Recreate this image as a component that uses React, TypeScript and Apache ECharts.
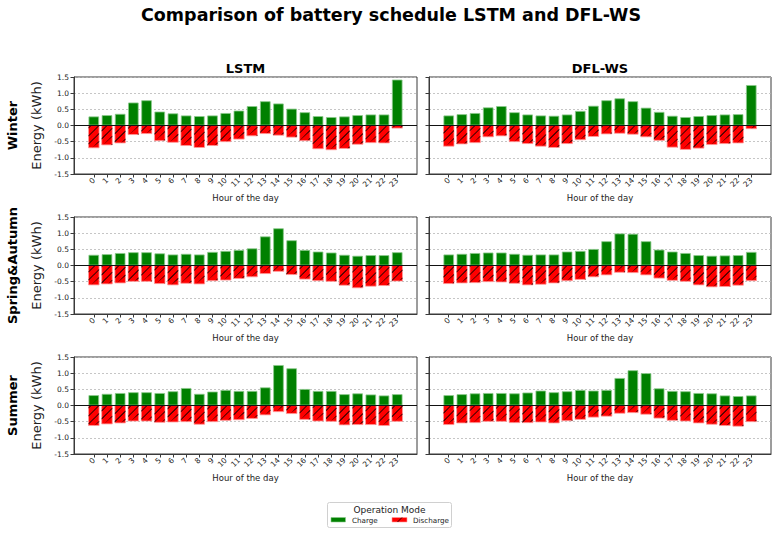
import React, { useEffect, useRef } from 'react';
import * as echarts from 'echarts';

const hours = ['0','1','2','3','4','5','6','7','8','9','10','11','12','13','14','15','16','17','18','19','20','21','22','23'];
const seasons = ['Winter', 'Spring&Autumn', 'Summer'];
const models = ['LSTM', 'DFL-WS'];
const yTicks = [-1.5, -1.0, -0.5, 0.0, 0.5, 1.0, 1.5];

const lstmWinterCharge = [0.28,0.32,0.36,0.71,0.78,0.43,0.375,0.31,0.29,0.31,0.385,0.46,0.60,0.75,0.68,0.52,0.41,0.29,0.26,0.28,0.32,0.34,0.34,1.42];
const lstmWinterDischarge = [-0.69,-0.60,-0.54,-0.28,-0.25,-0.47,-0.52,-0.62,-0.68,-0.62,-0.50,-0.42,-0.32,-0.25,-0.30,-0.36,-0.47,-0.72,-0.75,-0.71,-0.58,-0.53,-0.54,-0.08];
const dflWinterCharge = [0.31,0.35,0.385,0.56,0.60,0.41,0.34,0.31,0.30,0.34,0.45,0.61,0.78,0.84,0.75,0.55,0.42,0.30,0.26,0.29,0.32,0.34,0.35,1.25];
const dflWinterDischarge = [-0.64,-0.57,-0.53,-0.35,-0.32,-0.50,-0.56,-0.64,-0.68,-0.56,-0.44,-0.34,-0.26,-0.24,-0.27,-0.35,-0.46,-0.67,-0.74,-0.70,-0.59,-0.56,-0.54,-0.10];
const lstmSpringCharge = [0.33,0.35,0.385,0.41,0.41,0.375,0.34,0.36,0.34,0.42,0.45,0.48,0.53,0.90,1.15,0.78,0.48,0.43,0.40,0.33,0.30,0.32,0.32,0.41];
const lstmSpringDischarge = [-0.60,-0.57,-0.54,-0.49,-0.49,-0.56,-0.60,-0.55,-0.57,-0.47,-0.45,-0.40,-0.35,-0.25,-0.18,-0.28,-0.42,-0.47,-0.49,-0.61,-0.69,-0.64,-0.62,-0.48];
const dflSpringCharge = [0.34,0.36,0.385,0.40,0.40,0.36,0.33,0.34,0.34,0.43,0.45,0.51,0.75,0.99,0.98,0.75,0.49,0.43,0.385,0.32,0.30,0.31,0.32,0.42];
const dflSpringDischarge = [-0.56,-0.54,-0.53,-0.50,-0.51,-0.55,-0.60,-0.58,-0.54,-0.47,-0.43,-0.35,-0.29,-0.21,-0.22,-0.29,-0.39,-0.46,-0.49,-0.60,-0.66,-0.65,-0.61,-0.47];
const lstmSummerCharge = [0.32,0.36,0.385,0.41,0.41,0.385,0.44,0.54,0.36,0.43,0.48,0.45,0.45,0.56,1.25,1.15,0.51,0.45,0.45,0.35,0.375,0.34,0.31,0.35];
const lstmSummerDischarge = [-0.62,-0.57,-0.54,-0.48,-0.48,-0.52,-0.51,-0.50,-0.58,-0.50,-0.46,-0.44,-0.40,-0.29,-0.19,-0.25,-0.43,-0.48,-0.49,-0.60,-0.59,-0.59,-0.62,-0.49];
const dflSummerCharge = [0.32,0.35,0.375,0.385,0.385,0.375,0.40,0.46,0.41,0.44,0.48,0.46,0.48,0.85,1.09,1.00,0.53,0.45,0.44,0.385,0.375,0.31,0.29,0.31];
const dflSummerDischarge = [-0.59,-0.54,-0.53,-0.49,-0.49,-0.53,-0.53,-0.51,-0.54,-0.47,-0.43,-0.36,-0.33,-0.24,-0.22,-0.27,-0.39,-0.46,-0.48,-0.54,-0.58,-0.62,-0.64,-0.50];

const panels = [
  [lstmWinterCharge, lstmWinterDischarge, dflWinterCharge, dflWinterDischarge],
  [lstmSpringCharge, lstmSpringDischarge, dflSpringCharge, dflSpringDischarge],
  [lstmSummerCharge, lstmSummerDischarge, dflSummerCharge, dflSummerDischarge],
];

const FONT = 'DejaVu Sans';
const TXT = '#222';
const AX = '#3a3a3a';
const HATCH_STEP = 8;
const HATCH_T = 1.1;

function renderDischarge(params: any, api: any) {
  const idx = api.value(0);
  const v = api.value(1);
  const base = api.coord([idx, 0]);
  const end = api.coord([idx, v]);
  const bw = api.size([1, 0])[0] * 0.8;
  const x0 = base[0] - bw / 2;
  const x1 = base[0] + bw / 2;
  const y0 = Math.min(base[1], end[1]);
  const y1 = Math.max(base[1], end[1]);
  const children: any[] = [
    { type: 'rect', shape: { x: x0, y: y0, width: bw, height: y1 - y0 }, style: { fill: '#ff0000', stroke: '#ff9a9a', lineWidth: 0.8 } },
  ];
  const start = Math.ceil((x0 + y0) / HATCH_STEP) * HATCH_STEP;
  for (let cc = start; cc <= x1 + y1; cc += HATCH_STEP) {
    const ax = Math.max(x0, cc - y1);
    const bx = Math.min(x1, cc - y0);
    if (bx - ax < 0.6) continue;
    const ay = cc - ax;
    const by = cc - bx;
    children.push({
      type: 'polygon',
      shape: { points: [[ax, ay], [bx, by], [bx, Math.min(by + HATCH_T, y1)], [ax, Math.min(ay + HATCH_T, y1)]] },
      style: { fill: '#000', stroke: null },
    });
  }
  return { type: 'group', children };
}

function buildOption() {
  const grids: any[] = [];
  const xAxes: any[] = [];
  const yAxes: any[] = [];
  const series: any[] = [];
  const cats = ['', ...hours, ''];
  const show = (i: number) => i > 0 && i < cats.length - 1;
  const colLeft = [74, 429];
  const colWidth = [343, 342];
  const yMin = yTicks[0];
  const yMax = yTicks[yTicks.length - 1];
  for (let r = 0; r < 3; r++) {
    for (let c = 0; c < 2; c++) {
      const k = r * 2 + c;
      grids.push({
        left: colLeft[c], top: 77 + 140 * r, width: colWidth[c], height: 97,
        show: true, borderColor: AX, borderWidth: 1, backgroundColor: 'transparent',
      });
      xAxes.push({
        type: 'category', gridIndex: k, data: cats, boundaryGap: true,
        axisLine: { show: true, onZero: false, lineStyle: { color: AX, width: 1 } },
        axisTick: { show: true, alignWithLabel: true, interval: (i: number) => show(i), length: 3.5, lineStyle: { color: AX } },
        axisLabel: {
          interval: (i: number) => show(i), rotate: 45,
          margin: 5, fontSize: 7.5, color: TXT, fontFamily: FONT,
        },
        splitLine: { show: false },
        name: 'Hour of the day', nameLocation: 'middle', nameGap: 19,
        nameTextStyle: { fontSize: 8.5, color: TXT, fontFamily: FONT },
      });
      yAxes.push({
        type: 'value', gridIndex: k, min: yMin, max: yMax, interval: 0.5,
        axisLine: { show: true, onZero: false, lineStyle: { color: AX, width: 1 } },
        axisTick: { show: true, length: 3.5, lineStyle: { color: AX } },
        axisLabel: {
          show: c === 0, fontSize: 7.5, color: TXT, fontFamily: FONT, margin: 5,
          formatter: (v: number) => v.toFixed(1),
        },
        splitLine: { show: true, lineStyle: { color: '#b8b8b8', width: 0.8, type: [2, 2] } },
        name: c === 0 ? 'Energy (kWh)' : '', nameLocation: 'middle', nameGap: 31,
        nameTextStyle: { fontSize: 13, color: TXT, fontFamily: FONT },
      });
      const charge = panels[r][c * 2];
      const discharge = panels[r][c * 2 + 1];
      series.push({
        type: 'bar', xAxisIndex: k, yAxisIndex: k, name: 'Charge',
        data: [null, ...charge, null], barWidth: '80%',
        itemStyle: { color: '#008000', borderColor: '#8cc98c', borderWidth: 0.8 },
        markLine: {
          silent: true, symbol: 'none', label: { show: false },
          lineStyle: { color: '#111', type: 'solid', width: 1 },
          data: [{ yAxis: 0 }], z: 5,
        },
      });
      series.push({
        type: 'custom', xAxisIndex: k, yAxisIndex: k, name: 'Discharge',
        coordinateSystem: 'cartesian2d',
        data: discharge.map((v, i) => [i + 1, v]),
        encode: { x: 0, y: 1 },
        renderItem: renderDischarge,
        silent: true,
      });
    }
  }

  const graphic: any[] = [
    { type: 'text', x: 391, y: 15, style: { text: 'Comparison of battery schedule LSTM and DFL-WS', fontSize: 17.5, fontWeight: 'bold', fontFamily: FONT, fill: '#000', align: 'center', verticalAlign: 'middle' } },
    { type: 'text', x: 245.5, y: 68, style: { text: models[0], fontSize: 13, fontWeight: 'bold', fontFamily: FONT, fill: '#000', align: 'center', verticalAlign: 'middle' } },
    { type: 'text', x: 600, y: 68, style: { text: models[1], fontSize: 13, fontWeight: 'bold', fontFamily: FONT, fill: '#000', align: 'center', verticalAlign: 'middle' } },
  ];
  seasons.forEach((s, r) => {
    graphic.push({
      type: 'text', x: 12, y: 125.5 + 140 * r, rotation: Math.PI / 2,
      style: { text: s, fontSize: 13, fontWeight: 'bold', fontFamily: FONT, fill: '#000', align: 'center', verticalAlign: 'middle' },
    });
  });
  graphic.push(
    { type: 'rect', shape: { x: 327.5, y: 502.5, width: 124, height: 25, r: 2 }, style: { fill: '#fff', stroke: '#d0d0d0', lineWidth: 1 } },
    { type: 'text', x: 389.5, y: 509.5, style: { text: 'Operation Mode', fontSize: 9, fontFamily: FONT, fill: TXT, align: 'center', verticalAlign: 'middle' } },
    { type: 'rect', shape: { x: 331, y: 517.5, width: 14.5, height: 4.5 }, style: { fill: '#008000', stroke: '#8cc98c', lineWidth: 0.6 } },
    { type: 'text', x: 352, y: 520, style: { text: 'Charge', fontSize: 7.2, fontFamily: FONT, fill: TXT, align: 'left', verticalAlign: 'middle' } },
    { type: 'rect', shape: { x: 392, y: 517.5, width: 15, height: 4.5 }, style: { fill: '#ff0000', stroke: '#ff9a9a', lineWidth: 0.6 } },
    { type: 'line', shape: { x1: 397.5, y1: 522, x2: 402, y2: 517.5 }, style: { stroke: '#000', lineWidth: 0.8 } },
    { type: 'text', x: 413, y: 520, style: { text: 'Discharge', fontSize: 7.2, fontFamily: FONT, fill: TXT, align: 'left', verticalAlign: 'middle' } },
  );

  return {
    animation: false,
    backgroundColor: '#fff',
    textStyle: { fontFamily: FONT },
    grid: grids,
    xAxis: xAxes,
    yAxis: yAxes,
    series,
    graphic,
  };
}

export default function App() {
  const ref = useRef<HTMLDivElement>(null);
  useEffect(() => {
    if (!ref.current) return;
    const chart = echarts.init(ref.current, undefined, { renderer: 'svg' });
    chart.setOption(buildOption());
    return () => chart.dispose();
  }, []);
  return <div ref={ref} style={{ position: 'absolute', left: 0, top: 0, width: 781, height: 534 }} />;
}
